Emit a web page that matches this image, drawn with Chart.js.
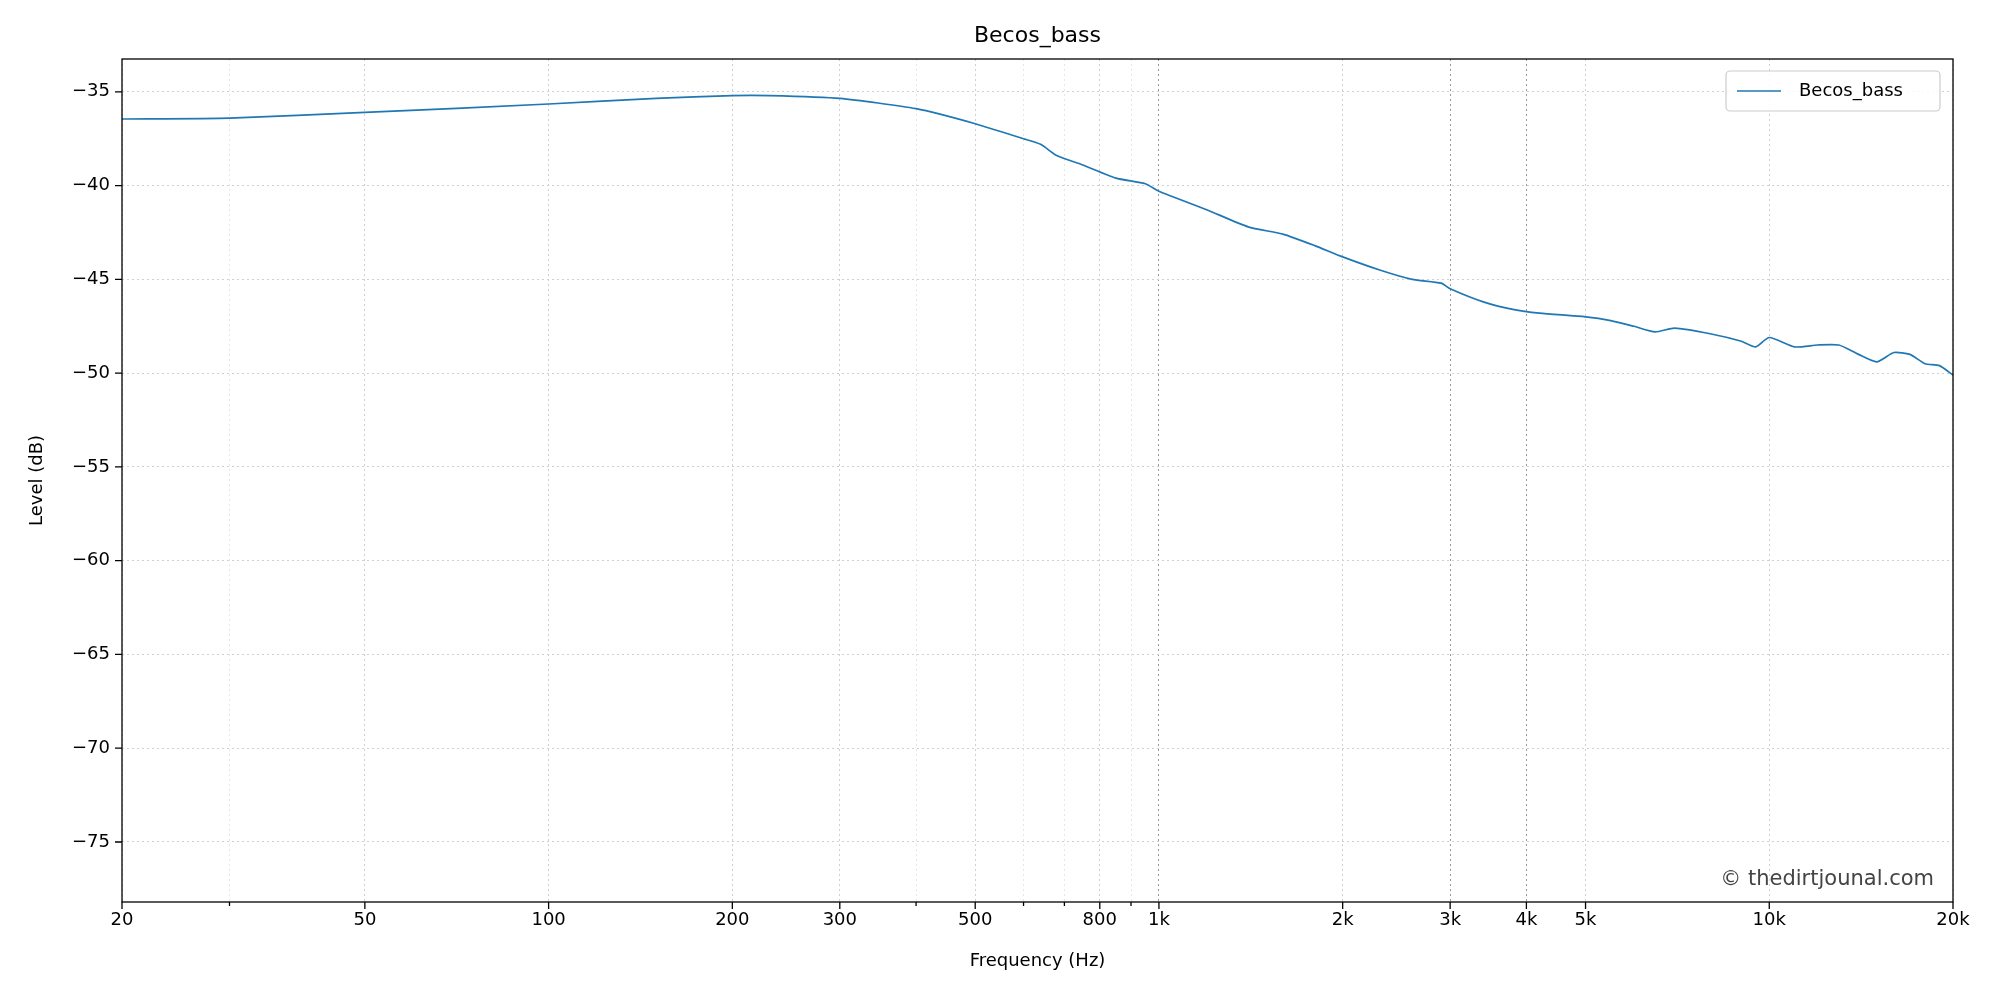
<!DOCTYPE html>
<html><head><meta charset="utf-8">
<script src="https://cdn.jsdelivr.net/npm/chart.js@4"></script>
<style>html,body{margin:0;padding:0;background:#fff}#c{display:block}</style>
</head><body>
<div style="width:2000px;height:1000px"><canvas id="c" width="2000" height="1000"></canvas></div>
<script>
const freqs = [20,30,50,100,150,200,230,300,400,500,600,640,680,750,850,950,1000,1200,1400,1600,1800,2000,2300,2600,2900,3000,3400,3800,4200,5000,5500,6000,6500,7000,8000,9000,9500,10000,11000,12000,13000,14000,15000,16000,17000,18000,19000,20000];
const levels = [-36.45,-36.4,-36.1,-35.65,-35.35,-35.2,-35.2,-35.35,-35.9,-36.7,-37.5,-37.8,-38.4,-38.9,-39.6,-39.9,-40.3,-41.3,-42.2,-42.6,-43.2,-43.8,-44.5,-45.0,-45.2,-45.5,-46.2,-46.6,-46.8,-47.0,-47.2,-47.5,-47.8,-47.6,-47.9,-48.3,-48.6,-48.1,-48.6,-48.5,-48.5,-49.0,-49.4,-48.9,-49.0,-49.5,-49.6,-50.1];
const xTicks = [20,50,100,200,300,500,800,1000,2000,3000,4000,5000,10000,20000];
const xTickLabels = ['20','50','100','200','300','500','800','1k','2k','3k','4k','5k','10k','20k'];
const xMinor = [30,400,600,700,900];
const yTicks = [-35,-40,-45,-50,-55,-60,-65,-70,-75];
const seriesName = 'Becos_bass';
const F = 'DejaVu Sans';
const overlay = {
  id:'overlay',
  afterDraw(ch){
    const c=ch.ctx, a=ch.chartArea;
    c.save();
    c.fillStyle='#000';c.textAlign='center';c.textBaseline='middle';
    c.font='22px "'+F+'"';c.fillText(seriesName,(a.left+a.right)/2,36);
    c.font='18px "'+F+'"';c.fillText('Frequency (Hz)',(a.left+a.right)/2,961);
    c.save();c.translate(37,(a.top+a.bottom)/2);c.rotate(-Math.PI/2);c.fillText('Level (dB)',0,0);c.restore();
    c.strokeStyle='#000';c.lineWidth=1.3;c.strokeRect(a.left,a.top,a.right-a.left,a.bottom-a.top);
    const xs=ch.scales.x, ys=ch.scales.y;
    c.beginPath();
    xTicks.forEach(v=>{const p=xs.getPixelForValue(v);c.moveTo(p,a.bottom);c.lineTo(p,a.bottom+7);});
    xMinor.forEach(v=>{const p=xs.getPixelForValue(v);c.moveTo(p,a.bottom);c.lineTo(p,a.bottom+4);});
    yTicks.forEach(v=>{const p=ys.getPixelForValue(v);c.moveTo(a.left,p);c.lineTo(a.left-7,p);});
    c.stroke();
    c.fillStyle='rgba(255,255,255,0.85)';c.strokeStyle='#ccc';c.lineWidth=1.2;
    c.beginPath();c.roundRect(1726,71,214,40,4);c.fill();c.stroke();
    c.strokeStyle='#1f77b4';c.lineWidth=1.7;c.beginPath();c.moveTo(1737,91);c.lineTo(1781,91);c.stroke();
    c.fillStyle='#000';c.textAlign='left';c.font='18px "'+F+'"';c.fillText(seriesName,1799,91);
    c.fillStyle='#444';c.textAlign='right';c.font='21px "'+F+'"';c.fillText('© thedirtjounal.com',1934,880);
    c.restore();
  }
};
new Chart(document.getElementById('c'),{
  type:'line',
  data:{datasets:[{label:seriesName,data:freqs.map((f,i)=>({x:f,y:levels[i]})),borderColor:'#1f77b4',borderWidth:1.7,pointRadius:0,tension:0.2,fill:false}]},
  options:{responsive:false,animation:false,
    layout:{padding:{left:0,top:59,right:47,bottom:0}},
    plugins:{legend:{display:false},title:{display:false},tooltip:{enabled:false}},
    scales:{
      x:{type:'logarithmic',min:20,max:20000,
        afterBuildTicks(s){s.ticks=xTicks.concat(xMinor).map(v=>({value:v}));},
        afterFit(s){s.height=98;},
        ticks:{autoSkip:false,maxRotation:0,color:'#000',font:{family:F,size:18},padding:8,
          callback:(v)=>{const i=xTicks.indexOf(v);return i>=0?xTickLabels[i]:'';}},
        grid:{drawTicks:false,color:(ctx)=>{const v=ctx.tick&&ctx.tick.value;return [1000,3000,4000].includes(v)?'#999':(xMinor.includes(v)?'#e6e6e6':'#d0d0d0');},lineWidth:1},
        border:{display:false,dash:[2,3]}},
      y:{min:-78.2,max:-33.25,
        afterBuildTicks(s){s.ticks=yTicks.map(v=>({value:v}));},
        afterFit(s){s.width=122;},
        ticks:{color:'#000',font:{family:F,size:18},padding:12,callback:v=>String(v).replace('-','\u2212')},
        grid:{drawTicks:false,color:'#d0d0d0',lineWidth:1},
        border:{display:false,dash:[2,3]}}
    }},
  plugins:[overlay]
});
</script></body></html>
